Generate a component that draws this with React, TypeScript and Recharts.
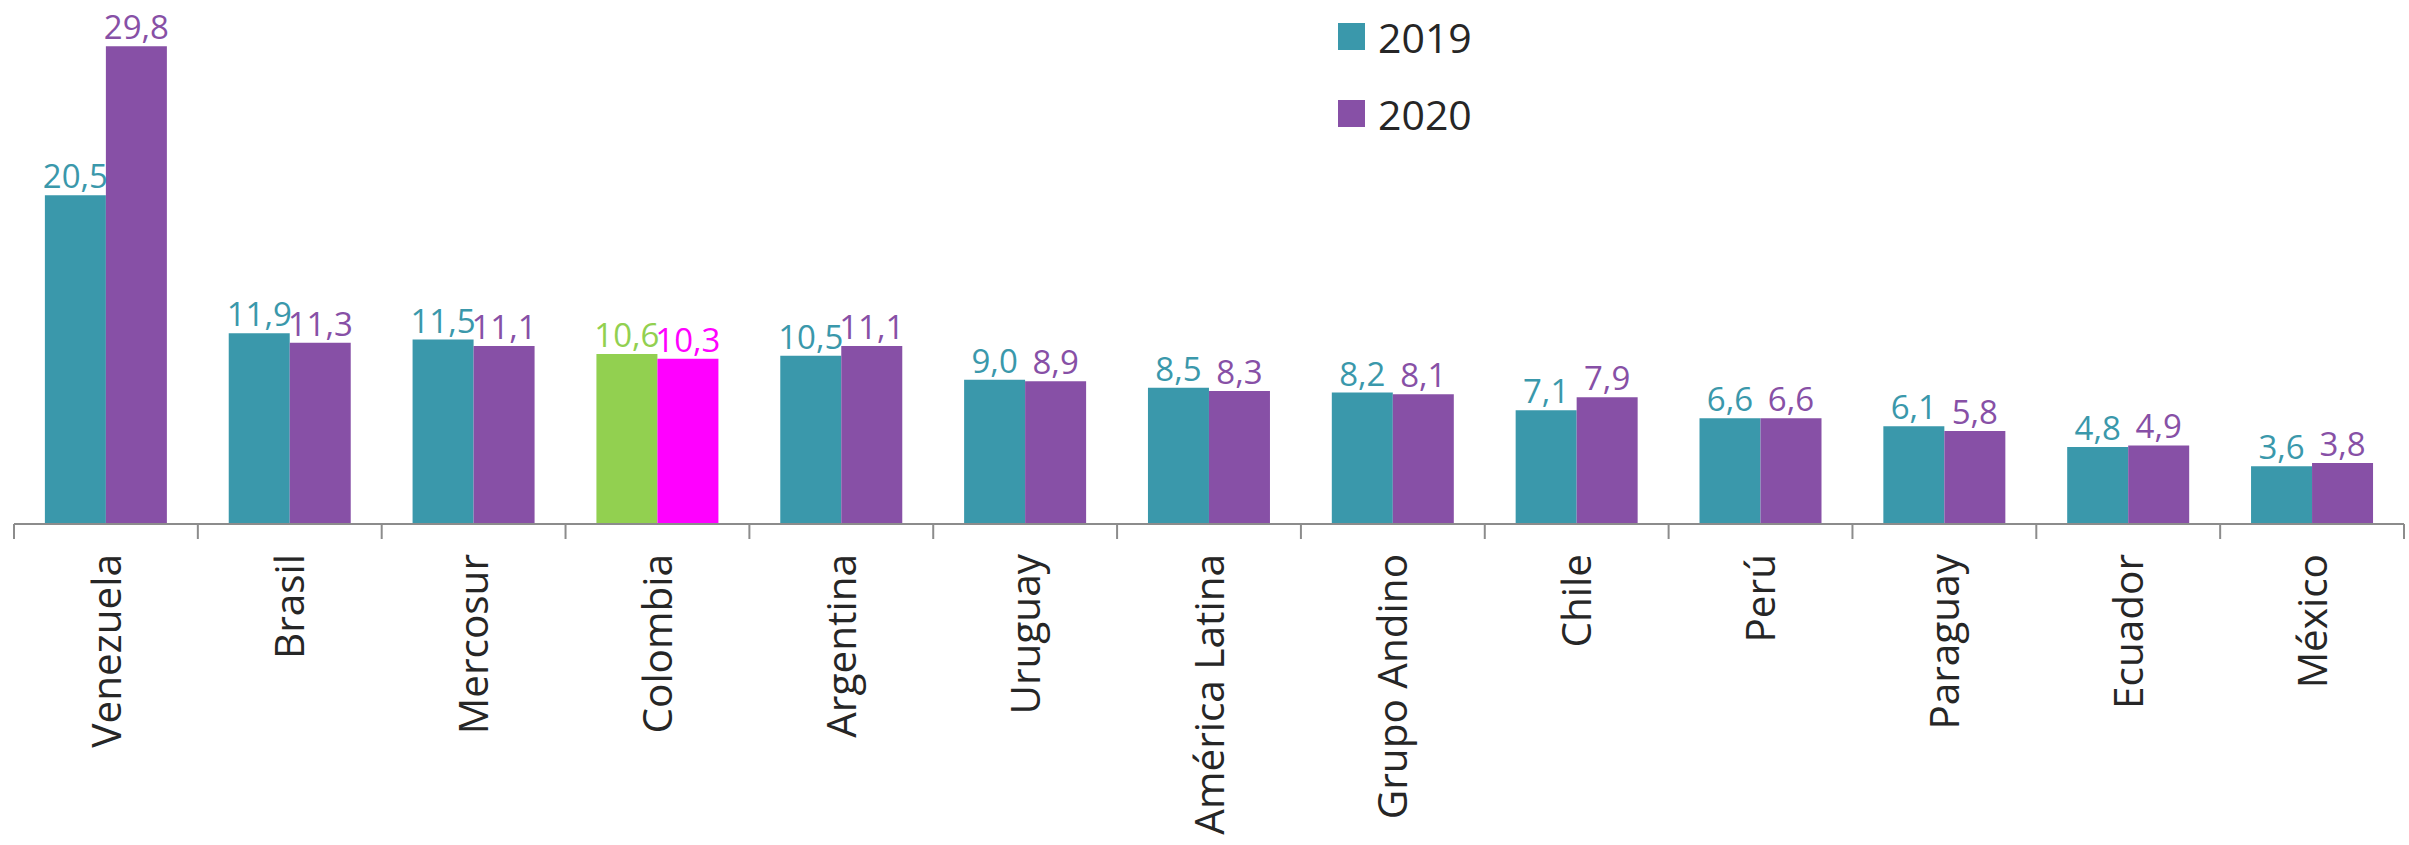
import React from 'react';
import { BarChart, Bar, XAxis, YAxis, Cell, LabelList, Legend } from 'recharts';

const categories = ['Venezuela', 'Brasil', 'Mercosur', 'Colombia', 'Argentina', 'Uruguay', 'América Latina', 'Grupo Andino', 'Chile', 'Perú', 'Paraguay', 'Ecuador', 'México'];
const values2019 = [20.5, 11.9, 11.5, 10.6, 10.5, 9.0, 8.5, 8.2, 7.1, 6.6, 6.1, 4.8, 3.6];
const values2020 = [29.8, 11.3, 11.1, 10.3, 11.1, 8.9, 8.3, 8.1, 7.9, 6.6, 5.8, 4.9, 3.8];
const highlighted = 'Colombia';

const FONT = '"Open Sans", sans-serif';
const C2019 = '#3a98ab';
const C2020 = '#8750a6';
const H2019 = '#92d050';
const H2020 = '#ff00ff';
const AXIS = '#8c8c8c';

const data = categories.map((name, i) => ({ name, y2019: values2019[i], y2020: values2020[i] }));

const fmt = (v: number) => v.toFixed(1).replace('.', ',');

const makeLabel = (base: string, hi: string) => (props: any) => {
    const { x, y, width, value, index } = props;
    const color = categories[index] === highlighted ? hi : base;
    return (
        <text x={x + width / 2} y={y - 7} textAnchor="middle" fill={color} fontSize={33} fontFamily={FONT}>
            {fmt(value)}
        </text>
    );
};

// label plus the tick marks at the band edges
const CategoryTick = (props: any) => {
    const { x, y, payload, index } = props;
    const half = payload.offset || 0;
    const ty = y + 30;
    return (
        <g>
            <line x1={x - half} x2={x - half} y1={y} y2={y + 15} stroke={AXIS} strokeWidth={2} />
            {index === categories.length - 1 && (
                <line x1={x + half} x2={x + half} y1={y} y2={y + 15} stroke={AXIS} strokeWidth={2} />
            )}
            <text
                x={x}
                y={ty}
                transform={`rotate(-90 ${x} ${ty})`}
                textAnchor="end"
                dy="0.36em"
                fill="#262626"
                fontSize={40.5}
                fontFamily={FONT}
            >
                {payload.value}
            </text>
        </g>
    );
};

const renderLegend = (props: any) => (
    <div style={{ fontFamily: FONT }}>
        {props.payload.map((item: any) => (
            <div key={item.value} style={{ display: 'flex', alignItems: 'center', height: 77 }}>
                <div style={{ width: 27, height: 27, background: item.color, marginRight: 13 }} />
                <span style={{ fontSize: 41, color: '#262626' }}>{item.value}</span>
            </div>
        ))}
    </div>
);

const App: React.FC = () => {
    return (
        <div style={{ position: 'absolute', left: 0, top: 0, width: 2409, height: 845, background: '#fff' }}>
            <BarChart
                width={2409}
                height={845}
                data={data}
                margin={{ top: 43, right: 5, bottom: 0, left: 14 }}
                barCategoryGap="16.8%"
                barGap={0}
            >
                <YAxis hide domain={[0, 30]} />
                <XAxis
                    dataKey="name"
                    height={321}
                    interval={0}
                    tickLine={false}
                    tickSize={0}
                    tickMargin={0}
                    axisLine={{ stroke: AXIS, strokeWidth: 2 }}
                    tick={<CategoryTick />}
                />
                <Legend
                    layout="vertical"
                    align="center"
                    verticalAlign="middle"
                    content={renderLegend}
                    wrapperStyle={{ left: 1338, top: -2, width: 'auto' }}
                />
                <Bar dataKey="y2019" name="2019" fill={C2019} isAnimationActive={false}>
                    {data.map((d) => (
                        <Cell key={d.name} fill={d.name === highlighted ? H2019 : C2019} />
                    ))}
                    <LabelList dataKey="y2019" content={makeLabel(C2019, H2019)} />
                </Bar>
                <Bar dataKey="y2020" name="2020" fill={C2020} isAnimationActive={false}>
                    {data.map((d) => (
                        <Cell key={d.name} fill={d.name === highlighted ? H2020 : C2020} />
                    ))}
                    <LabelList dataKey="y2020" content={makeLabel(C2020, H2020)} />
                </Bar>
            </BarChart>
        </div>
    );
};

export default App;
